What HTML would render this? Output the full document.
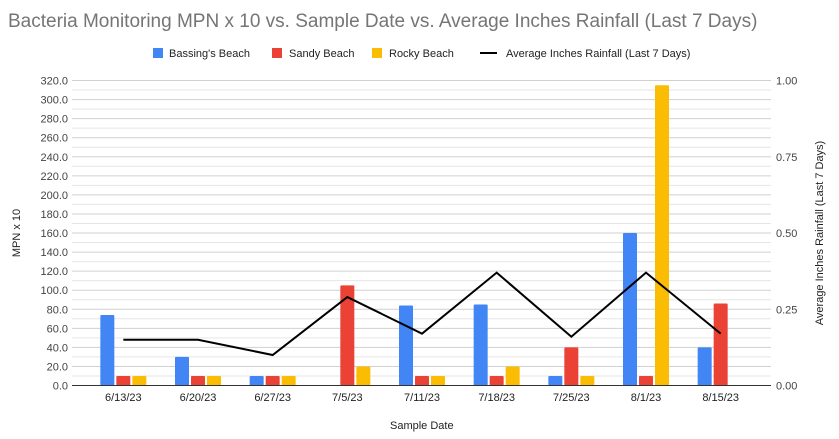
<!DOCTYPE html>
<html><head><meta charset="utf-8"><style>
body{margin:0;background:#fff;font-family:"Liberation Sans",sans-serif;}
svg text{font-family:"Liberation Sans",sans-serif;}
</style></head><body>
<svg id="c" width="839" height="434" xmlns="http://www.w3.org/2000/svg">
<text x="8" y="27" font-size="19" fill="#757575">Bacteria Monitoring MPN x 10 vs. Sample Date vs. Average Inches Rainfall (Last 7 Days)</text>
<g font-size="11" fill="#222">
<rect x="153" y="48" width="10" height="10" fill="#4285f4"/>
<text x="169" y="57">Bassing's Beach</text>
<rect x="272" y="48" width="10" height="10" fill="#ea4335"/>
<text x="289" y="57">Sandy Beach</text>
<rect x="372" y="48" width="10" height="10" fill="#fbbc04"/>
<text x="389" y="57">Rocky Beach</text>
<line x1="480" y1="53" x2="497" y2="53" stroke="#000" stroke-width="2"/>
<text x="506" y="57">Average Inches Rainfall (Last 7 Days)</text>
</g>
<g id="grid"></g><g id="bars"></g><g id="line"></g><g id="axes"></g>
<text x="390" y="429" font-size="11" fill="#222">Sample Date</text>
<text transform="translate(20,233) rotate(-90)" text-anchor="middle" font-size="11" fill="#222">MPN x 10</text>
<text transform="translate(823,233) rotate(-90)" text-anchor="middle" font-size="11" fill="#222">Average Inches Rainfall (Last 7 Days)</text>
</svg>
<script>
const categories=["6/13/23","6/20/23","6/27/23","7/5/23","7/11/23","7/18/23","7/25/23","8/1/23","8/15/23"];
const bassings=[74,30,10,0,84,85,10,160,40];
const sandy=[10,10,10,105,10,10,40,10,86];
const rocky=[10,10,10,20,10,20,10,315,0];
const rainfall=[0.15,0.15,0.10,0.29,0.17,0.37,0.16,0.37,0.17];
const yTicks=[0,20,40,60,80,100,120,140,160,180,200,220,240,260,280,300,320];
const y2Ticks=[0,0.25,0.5,0.75,1];
const NS="http://www.w3.org/2000/svg";
const L=72,R=771,B0=86,B1=758,Y0=385.5,YT=80.5,YMAX=320,Y2MAX=1;
const band=(B1-B0)/categories.length;
const x=i=>B0+band*(i+0.5);
const y=v=>Y0-(v/YMAX)*(Y0-YT);
const y2=v=>Y0-(v/Y2MAX)*(Y0-YT);
function mk(t,a,p){const e=document.createElementNS(NS,t);for(const k in a)e.setAttribute(k,a[k]);p.appendChild(e);return e;}
const grid=document.getElementById('grid'),bars=document.getElementById('bars'),lineG=document.getElementById('line'),axes=document.getElementById('axes');
for(let v=10;v<=YMAX;v+=10){const g=mk('line',{x1:L,x2:R,y1:y(v),y2:y(v),stroke:v%20===0?'#d0d0d0':'#e6e6e6','stroke-width':1},grid);

}
yTicks.forEach(v=>{const t=mk('text',{x:68,y:y(v)+4,'text-anchor':'end','font-size':11,fill:'#444'},axes);t.textContent=v.toFixed(1);

});
y2Ticks.forEach(v=>{const t=mk('text',{x:776,y:y2(v)+4,'font-size':11,fill:'#444'},axes);t.textContent=v.toFixed(2);

});
const ax=mk('line',{x1:L,x2:R,y1:Y0,y2:Y0,stroke:'#333','stroke-width':1},axes);


const series=[[bassings,'#4285f4','bassings'],[sandy,'#ea4335','sandy'],[rocky,'#fbbc04','rocky']];
const bw=14,gap=2;
categories.forEach((c,i)=>{
 series.forEach((s,j)=>{const v=s[0][i];if(v<=0)return;
  const bx=x(i)+(j-1)*(bw+gap)-bw/2;
  const r=mk('rect',{x:bx,y:y(v),width:bw,height:Y0-y(v),fill:s[1],rx:1},bars);
  
  });
 const t=mk('text',{x:x(i),y:401,'text-anchor':'middle','font-size':11,fill:'#222'},axes);t.textContent=c;
 
 
});
const pl=mk('polyline',{points:rainfall.map((v,i)=>x(i)+','+y2(v)).join(' '),fill:'none',stroke:'#000','stroke-width':2},lineG);


</script>
</body></html>
